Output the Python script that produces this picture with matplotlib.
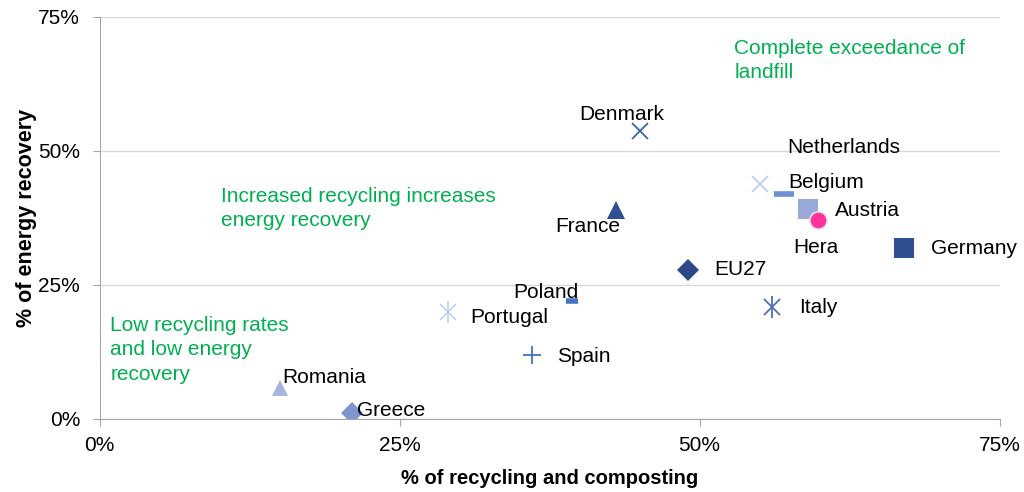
import matplotlib
matplotlib.use("Agg")
import matplotlib.pyplot as plt
from matplotlib.ticker import FuncFormatter

plt.rcParams['font.family'] = ['Liberation Sans', 'DejaVu Sans']

# datos
paises = ["Denmark", "Netherlands", "Belgium", "Austria", "Hera", "Germany", "France",
          "EU27", "Italy", "Poland", "Portugal", "Spain", "Romania", "Greece"]
reciclaje = [45.0, 55.0, 57.0, 59.0, 59.9, 67.0, 43.0, 49.0, 56.0, 39.4, 29.0, 36.0, 15.0, 21.0]
energia = [53.7, 43.8, 42.0, 39.2, 37.1, 31.9, 39.0, 27.8, 20.9, 22.0, 20.0, 11.9, 5.8, 1.1]

marcadores = ['x', 'x', '_', 's', 'o', 's', '^', 'D', 'ast', '_', 'ast', '+', '^', 'D']
colores = ['#3F64AE', '#BFCDEA', '#6C8FD2', '#98A9D9', '#FF3399', '#2F5090', '#2F5090',
           '#2B4A85', '#4D6FB8', '#4472C4', '#C4D0EC', '#4472C4', '#A6B5DE', '#7E95D0']
tamanos = [12, 12, 15, 14, 12.5, 14, 13, 11, 12, 9, 12, 13, 12, 11]

# (dx, dy, ha) desplazamiento de las etiquetas en pixeles
etiquetas_pos = [(-18, 17, 'center'), (28, 37, 'left'), (5, 11, 'left'), (27, -2, 'left'),
                 (-25, -27, 'left'), (28, 0, 'left'), (5, -17, 'right'), (27, 0, 'left'),
                 (28, -1, 'left'), (6, 9, 'right'), (23, -6, 'left'), (26, -1, 'left'),
                 (3, 10, 'left'), (6, 3, 'left')]

notas = ["Complete exceedance of\nlandfill", "Increased recycling increases\nenergy recovery",
         "Low recycling rates\nand low energy\nrecovery"]
notas_x = [52.9, 10.1, 0.9]
notas_y = [66.9, 39.3, 12.9]

fig = plt.figure(figsize=(10.24, 4.92), dpi=100)
ax = fig.add_axes([99.5 / 1024, 1 - 419 / 492, 900 / 1024, 402 / 492])

for i in range(len(paises)):
    m = marcadores[i]
    c = colores[i]
    s = tamanos[i]
    if m == 'ast':
        ax.plot(reciclaje[i], energia[i], marker='x', color=c, markersize=s, mew=1.3, ls='none')
        ax.plot(reciclaje[i], energia[i], marker='|', color=c, markersize=s * 1.35, mew=1.3, ls='none')
    elif m in ('x', '+'):
        ax.plot(reciclaje[i], energia[i], marker=m, color=c, markersize=s, mew=1.3, ls='none')
    elif m == '_':
        ax.plot(reciclaje[i], energia[i], marker=m, color=c, markersize=s, mew=4, ls='none')
    elif m == 'o':
        ax.plot(reciclaje[i], energia[i], marker=m, color=c, markersize=s, mec='#DDE3F3', mew=1.2, ls='none')
    else:
        ax.plot(reciclaje[i], energia[i], marker=m, color=c, markersize=s, mew=0, ls='none')
    dx, dy, ha = etiquetas_pos[i]
    ax.annotate(paises[i], (reciclaje[i], energia[i]), xytext=(dx, dy), textcoords='offset pixels',
                ha=ha, va='center', fontsize=15, color='black')

for t, x, y in zip(notas, notas_x, notas_y):
    ax.text(x, y, t, color='#00B050', fontsize=15, ha='left', va='center', linespacing=1.35)

ax.set_xlim(0, 75)
ax.set_ylim(0, 75)
ax.set_xticks([0, 25, 50, 75])
ax.set_yticks([0, 25, 50, 75])
ax.xaxis.set_major_formatter(FuncFormatter(lambda v, p: f"{v:.0f}%"))
ax.yaxis.set_major_formatter(FuncFormatter(lambda v, p: f"{v:.0f}%"))
ax.yaxis.grid(True, color='#D9D9D9', lw=1)
ax.set_axisbelow(True)
for lado in ['top', 'right']:
    ax.spines[lado].set_visible(False)
for lado in ['left', 'bottom']:
    ax.spines[lado].set_color('#A6A6A6')
ax.tick_params(colors='#A6A6A6', labelcolor='black', labelsize=15, length=5, direction='out')
ax.tick_params(axis='x', pad=7)
ax.tick_params(axis='y', pad=9)
ax.set_xlabel("% of recycling and composting", fontsize=14.5, fontweight='bold', labelpad=10)
ax.set_ylabel("% of energy recovery", fontsize=15.5, fontweight='bold', labelpad=1)

fig.savefig("out.png", dpi=100)
